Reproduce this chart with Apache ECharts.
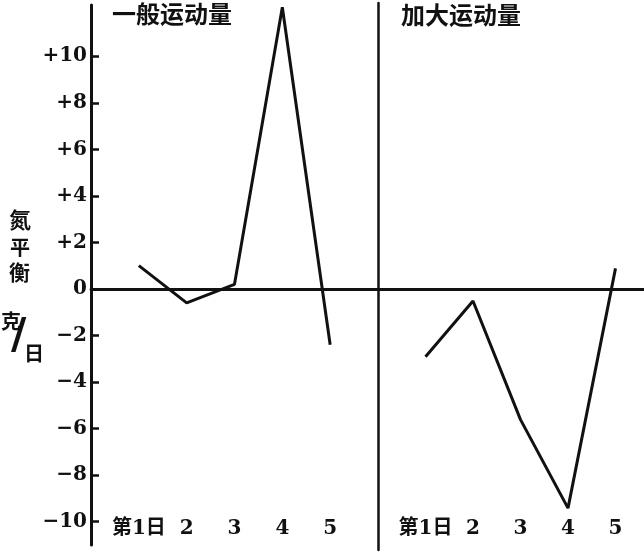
<!DOCTYPE html>
<html><head><meta charset="utf-8">
<script src="https://cdn.jsdelivr.net/npm/echarts@6/dist/echarts.min.js"></script>
<style>html,body{margin:0;padding:0;background:#fff}#c{width:644px;height:556px}</style>
</head><body><div id="c"></div>
<script>
const days = [1, 2, 3, 4, 5];
const dayLabels = ['第1日', '2', '3', '4', '5'];
const normalExercise = [1.0, -0.6, 0.2, 12.1, -2.4];
const increasedExercise = [-2.9, -0.5, -5.6, -9.4, 0.9];
const yTicks = [-10, -8, -6, -4, -2, 0, 2, 4, 6, 8, 10];
const titleLeft = '一般运动量';
const titleRight = '加大运动量';
const yTitle = ['氮', '平', '衡'];
const yUnit = ['克', '/', '日'];

const serif = '"DejaVu Serif", "Noto Sans CJK SC", serif';
const ink = '#111';
const chart = echarts.init(document.getElementById('c'), null, {renderer: 'canvas'});

function fmtY(v) {
  if (v > 0) return '+' + v;
  if (v < 0) return '\u2212' + Math.abs(v);
  return '0';
}
function fmtX(v) {
  const i = days.indexOf(v);
  return i >= 0 ? dayLabels[i] : '';
}
const pairs = vals => days.map((d, i) => [d, vals[i]]);

const xLabelAxis = (gi, max, margin) => ({
  type: 'value', gridIndex: gi, min: 0, max: max, interval: 1,
  position: 'bottom',
  axisLine: {show: false, onZero: false}, axisTick: {show: false}, splitLine: {show: false},
  axisLabel: {inside: true, margin: margin, formatter: fmtX, color: ink,
    fontFamily: serif, fontWeight: 'bold', fontSize: 20, showMinLabel: false, showMaxLabel: false}
});
const xZeroAxis = (gi, max) => ({
  type: 'value', gridIndex: gi, min: 0, max: max,
  axisLine: {show: true, onZero: true, lineStyle: {color: ink, width: 2.8}},
  axisTick: {show: false}, axisLabel: {show: false}, splitLine: {show: false}
});

const option = {
  backgroundColor: '#fff',
  animation: false,
  grid: [
    {left: 91, width: 287, top: 5, bottom: 11},
    {left: 378, right: 0, top: 3, bottom: 6}
  ],
  xAxis: [xLabelAxis(0, 6, 6), xZeroAxis(0, 6), xLabelAxis(1, 5.6, 11), xZeroAxis(1, 5.6)],
  yAxis: [
    {type: 'value', gridIndex: 0, min: -11, max: 12.2,
     axisLine: {show: true, lineStyle: {color: ink, width: 3}},
     axisTick: {show: true, inside: true, length: 8, customValues: yTicks, lineStyle: {color: ink, width: 2.5}},
     axisLabel: {customValues: yTicks, formatter: fmtY, margin: 4, color: ink,
       fontFamily: serif, fontWeight: 'bold', fontSize: 20},
     splitLine: {show: false}},
    {type: 'value', gridIndex: 1, min: -11.2, max: 12.3,
     axisLine: {show: true, lineStyle: {color: ink, width: 2.5}},
     axisTick: {show: false}, axisLabel: {show: false}, splitLine: {show: false}}
  ],
  series: [
    {type: 'line', xAxisIndex: 0, yAxisIndex: 0, data: pairs(normalExercise),
     symbol: 'none', clip: false, lineStyle: {color: ink, width: 3}},
    {type: 'line', xAxisIndex: 2, yAxisIndex: 1, data: pairs(increasedExercise),
     symbol: 'none', clip: false, lineStyle: {color: ink, width: 3}}
  ],
  graphic: [
    {type: 'text', left: 112, top: 2, style: {text: titleLeft, font: 'bold 24px "Noto Sans CJK SC"', fill: ink}},
    {type: 'text', left: 401, top: 3, style: {text: titleRight, font: 'bold 24px "Noto Sans CJK SC"', fill: ink}},
    {type: 'text', left: 9, top: 209, style: {text: yTitle[0], font: 'bold 22px "Noto Sans CJK SC"', fill: ink}},
    {type: 'text', left: 10, top: 237, style: {text: yTitle[1], font: 'bold 20px "Noto Sans CJK SC"', fill: ink}},
    {type: 'text', left: 9, top: 262, style: {text: yTitle[2], font: 'bold 21px "Noto Sans CJK SC"', fill: ink}},
    {type: 'text', left: 1, top: 311, style: {text: yUnit[0], font: 'bold 20px "Noto Sans CJK SC"', fill: ink}},
    {type: 'text', left: 11, top: 316, style: {text: yUnit[1], font: 'bold 42px "DejaVu Sans"', fill: ink}},
    {type: 'text', left: 24, top: 343, style: {text: yUnit[2], font: 'bold 20px "Noto Sans CJK SC"', fill: ink}}
  ]
};
chart.setOption(option);
</script></body></html>
